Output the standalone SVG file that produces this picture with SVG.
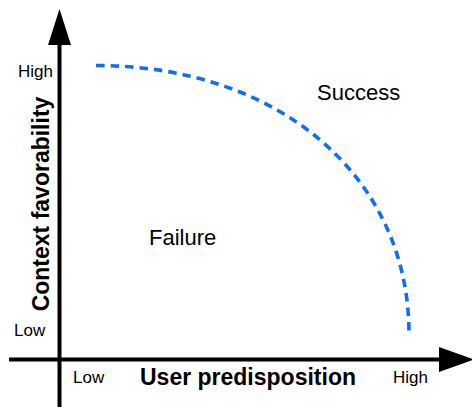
<svg xmlns="http://www.w3.org/2000/svg" width="472" height="407" viewBox="0 0 472 407">
<style>
text{font-family:"Liberation Sans",Arial,sans-serif;fill:#000}
.tick{font-size:17px}
.region{font-size:22px}
.title{font-size:23px;font-weight:bold}
.axis{stroke:#000;stroke-width:4;fill:none}
.curve{stroke:#0f6ef2;stroke-width:3.6;fill:none;stroke-dasharray:8.5 6}
</style>
<rect width="472" height="407" fill="#fff"/>
<g id="connectors">
<line class="axis" x1="59.5" y1="407" x2="59.5" y2="42"/>
<polygon points="59.5,9 71,45 48,45" fill="#000"/>
<line class="axis" x1="9" y1="359.5" x2="441" y2="359.5"/>
<polygon points="474,359.5 439,347 439,372" fill="#000"/>
<path id="boundary" class="curve" d="M96,65.5 C279,65.5 409,177 409,333.5"/>
</g>
<g id="y-axis-labels">
<text class="tick" x="18" y="77">High</text>
<text class="tick" x="14" y="336">Low</text>
<text class="title" transform="translate(49,204) rotate(-90)" text-anchor="middle">Context favorability</text>
</g>
<g id="x-axis-labels">
<text class="tick" x="73" y="383">Low</text>
<text class="title" x="248" y="385" text-anchor="middle">User predisposition</text>
<text class="tick" x="393" y="383">High</text>
</g>
<g id="success"><text class="region" x="317" y="100">Success</text></g>
<g id="failure"><text class="region" x="149" y="245">Failure</text></g>
</svg>
